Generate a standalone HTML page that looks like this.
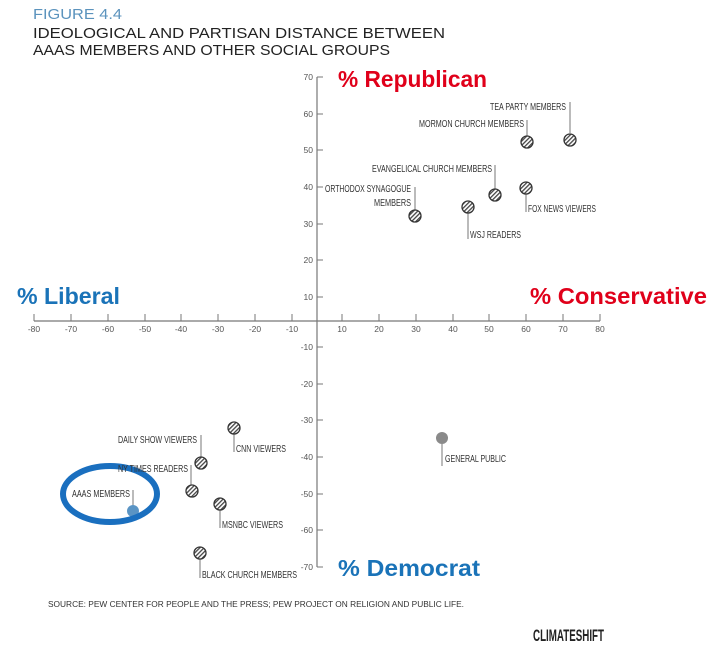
<!DOCTYPE html>
<html><head><meta charset="utf-8"><style>
html,body{margin:0;padding:0;background:#fff;}
svg{display:block;}
.t{font-family:"Liberation Sans",sans-serif;}
.lb{font-family:"Liberation Sans",sans-serif;font-size:10px;fill:#333;}
.tk{font-family:"Liberation Sans",sans-serif;font-size:8.5px;fill:#555;}
.big{font-family:"Liberation Sans",sans-serif;font-weight:bold;font-size:23px;}
</style></head><body>
<svg width="722" height="654" viewBox="0 0 722 654" xmlns="http://www.w3.org/2000/svg">
<defs>
<pattern id="h" width="3" height="3" patternUnits="userSpaceOnUse" patternTransform="rotate(45)">
<rect width="3" height="3" fill="#fff"/><rect width="1.3" height="3" fill="#444"/>
</pattern>
</defs>
<g lengthAdjust="spacingAndGlyphs">
<text class="t" x="33" y="19" font-size="15" fill="#5b93bd" textLength="89" lengthAdjust="spacingAndGlyphs">FIGURE 4.4</text>
<text class="t" x="33" y="38" font-size="15" fill="#222" textLength="412" lengthAdjust="spacingAndGlyphs">IDEOLOGICAL AND PARTISAN DISTANCE BETWEEN</text>
<text class="t" x="33" y="55" font-size="15" fill="#222" textLength="357" lengthAdjust="spacingAndGlyphs">AAAS MEMBERS AND OTHER SOCIAL GROUPS</text>

<text class="big" x="338" y="87" fill="#e0001a" textLength="149" lengthAdjust="spacingAndGlyphs">% Republican</text>
<text class="big" x="17" y="304" fill="#1a73b8" textLength="103" lengthAdjust="spacingAndGlyphs">% Liberal</text>
<text class="big" x="530" y="304" fill="#e0001a" textLength="177" lengthAdjust="spacingAndGlyphs">% Conservative</text>
<text class="big" x="338" y="576" fill="#1a73b8" textLength="142" lengthAdjust="spacingAndGlyphs">% Democrat</text>
</g>

<g stroke="#777" stroke-width="1.2" fill="none">
<line x1="317" y1="77" x2="317" y2="567"/>
<line x1="34" y1="321" x2="600" y2="321"/>
</g>
<g stroke="#777" stroke-width="1">
<line x1="317" y1="77" x2="323" y2="77"/><line x1="317" y1="114" x2="323" y2="114"/>
<line x1="317" y1="150" x2="323" y2="150"/><line x1="317" y1="187" x2="323" y2="187"/>
<line x1="317" y1="224" x2="323" y2="224"/><line x1="317" y1="260" x2="323" y2="260"/>
<line x1="317" y1="297" x2="323" y2="297"/><line x1="317" y1="347" x2="323" y2="347"/>
<line x1="317" y1="384" x2="323" y2="384"/><line x1="317" y1="420" x2="323" y2="420"/>
<line x1="317" y1="457" x2="323" y2="457"/><line x1="317" y1="494" x2="323" y2="494"/>
<line x1="317" y1="530" x2="323" y2="530"/><line x1="317" y1="567" x2="323" y2="567"/>
<line x1="34" y1="314" x2="34" y2="321"/><line x1="71" y1="314" x2="71" y2="321"/>
<line x1="108" y1="314" x2="108" y2="321"/><line x1="145" y1="314" x2="145" y2="321"/>
<line x1="181" y1="314" x2="181" y2="321"/><line x1="218" y1="314" x2="218" y2="321"/>
<line x1="255" y1="314" x2="255" y2="321"/><line x1="292" y1="314" x2="292" y2="321"/>
<line x1="342" y1="314" x2="342" y2="321"/><line x1="379" y1="314" x2="379" y2="321"/>
<line x1="416" y1="314" x2="416" y2="321"/><line x1="453" y1="314" x2="453" y2="321"/>
<line x1="489" y1="314" x2="489" y2="321"/><line x1="526" y1="314" x2="526" y2="321"/>
<line x1="563" y1="314" x2="563" y2="321"/><line x1="600" y1="314" x2="600" y2="321"/>
</g>
<g class="tk" text-anchor="end">
<text x="313" y="80">70</text><text x="313" y="117">60</text><text x="313" y="153">50</text>
<text x="313" y="190">40</text><text x="313" y="227">30</text><text x="313" y="263">20</text>
<text x="313" y="300">10</text><text x="313" y="350">-10</text><text x="313" y="387">-20</text>
<text x="313" y="423">-30</text><text x="313" y="460">-40</text><text x="313" y="497">-50</text>
<text x="313" y="533">-60</text><text x="313" y="570">-70</text>
</g>
<g class="tk" text-anchor="middle">
<text x="34" y="332">-80</text><text x="71" y="332">-70</text><text x="108" y="332">-60</text>
<text x="145" y="332">-50</text><text x="181" y="332">-40</text><text x="218" y="332">-30</text>
<text x="255" y="332">-20</text><text x="292" y="332">-10</text><text x="342" y="332">10</text>
<text x="379" y="332">20</text><text x="416" y="332">30</text><text x="453" y="332">40</text>
<text x="489" y="332">50</text><text x="526" y="332">60</text><text x="563" y="332">70</text>
<text x="600" y="332">80</text>
</g>

<g stroke="#777" stroke-width="1">
<line x1="570" y1="102" x2="570" y2="133"/>
<line x1="527" y1="120" x2="527" y2="136"/>
<line x1="495" y1="165" x2="495" y2="189"/>
<line x1="526" y1="194" x2="526" y2="212"/>
<line x1="415" y1="187" x2="415" y2="210"/>
<line x1="468" y1="213" x2="468" y2="239"/>
<line x1="442" y1="444" x2="442" y2="466"/>
<line x1="234" y1="434" x2="234" y2="452"/>
<line x1="201" y1="435" x2="201" y2="457"/>
<line x1="191" y1="465" x2="191" y2="485"/>
<line x1="133" y1="490" x2="133" y2="505"/>
<line x1="220" y1="510" x2="220" y2="528"/>
<line x1="200" y1="559" x2="200" y2="578"/>
</g>
<g stroke="#333" stroke-width="1.3" fill="url(#h)">
<circle cx="570" cy="140" r="6"/>
<circle cx="527" cy="142" r="6"/>
<circle cx="495" cy="195" r="6"/>
<circle cx="526" cy="188" r="6"/>
<circle cx="415" cy="216" r="6"/>
<circle cx="468" cy="207" r="6"/>
<circle cx="234" cy="428" r="6"/>
<circle cx="201" cy="463" r="6"/>
<circle cx="192" cy="491" r="6"/>
<circle cx="220" cy="504" r="6"/>
<circle cx="200" cy="553" r="6"/>
</g>
<circle cx="442" cy="438" r="6" fill="#8a8a8a"/>
<circle cx="133" cy="511" r="6" fill="#5a94c4"/>
<ellipse cx="110" cy="494" rx="47" ry="28" fill="none" stroke="#1a6fbf" stroke-width="6"/>

<g class="lb">
<text x="490" y="110" textLength="76" lengthAdjust="spacingAndGlyphs">TEA PARTY MEMBERS</text>
<text x="419" y="127" textLength="105" lengthAdjust="spacingAndGlyphs">MORMON CHURCH MEMBERS</text>
<text x="372" y="172" textLength="120" lengthAdjust="spacingAndGlyphs">EVANGELICAL CHURCH MEMBERS</text>
<text x="325" y="192" textLength="86" lengthAdjust="spacingAndGlyphs">ORTHODOX SYNAGOGUE</text>
<text x="374" y="206" textLength="37" lengthAdjust="spacingAndGlyphs">MEMBERS</text>
<text x="528" y="212" textLength="68" lengthAdjust="spacingAndGlyphs">FOX NEWS VIEWERS</text>
<text x="470" y="238" textLength="51" lengthAdjust="spacingAndGlyphs">WSJ READERS</text>
<text x="445" y="462" textLength="61" lengthAdjust="spacingAndGlyphs">GENERAL PUBLIC</text>
<text x="236" y="452" textLength="50" lengthAdjust="spacingAndGlyphs">CNN VIEWERS</text>
<text x="118" y="443" textLength="79" lengthAdjust="spacingAndGlyphs">DAILY SHOW VIEWERS</text>
<text x="118" y="472" textLength="70" lengthAdjust="spacingAndGlyphs">NY TIMES READERS</text>
<text x="72" y="497" textLength="58" lengthAdjust="spacingAndGlyphs">AAAS MEMBERS</text>
<text x="222" y="528" textLength="61" lengthAdjust="spacingAndGlyphs">MSNBC VIEWERS</text>
<text x="202" y="578" textLength="95" lengthAdjust="spacingAndGlyphs">BLACK CHURCH MEMBERS</text>
</g>
<text class="t" x="48" y="607" font-size="8" fill="#333" textLength="416" lengthAdjust="spacingAndGlyphs">SOURCE: PEW CENTER FOR PEOPLE AND THE PRESS; PEW PROJECT ON RELIGION AND PUBLIC LIFE.</text>
<text class="t" x="533" y="641" font-size="17" font-weight="bold" fill="#222" textLength="71" lengthAdjust="spacingAndGlyphs">CLIMATESHIFT</text>
</svg>
</body></html>
